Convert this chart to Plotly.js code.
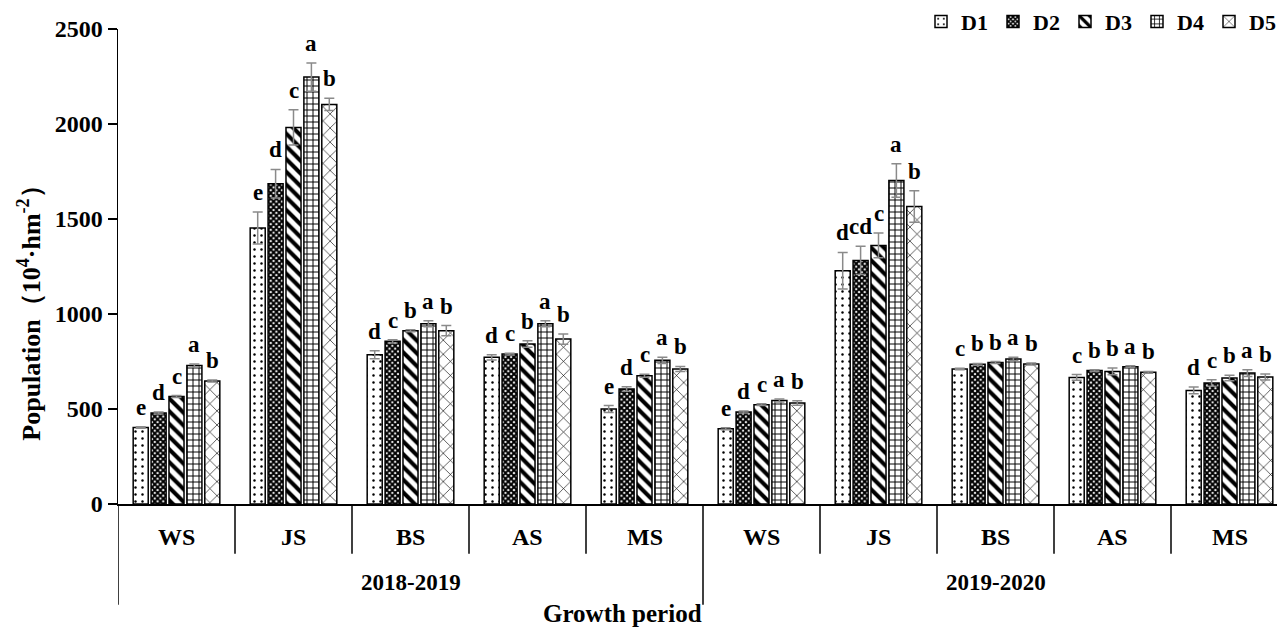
<!DOCTYPE html>
<html>
<head>
<meta charset="utf-8">
<script src="https://cdn.plot.ly/plotly-3.0.1.min.js"></script>
<style>html,body{margin:0;padding:0;background:#fff;}#chart{width:1277px;height:628px;}</style>
</head>
<body>
<div id="chart"></div>
<script>
// ---- data ----
const stages = ["WS","JS","BS","AS","MS","WS","JS","BS","AS","MS"];
const seasons = ["2018-2019","2019-2020"];
const seriesNames = ["D1","D2","D3","D4","D5"];

const D1 = [403, 1453, 786, 772, 500, 396, 1228, 710, 666, 598];
const D2 = [479, 1686, 856, 789, 605, 484, 1282, 735, 702, 637];
const D3 = [566, 1982, 912, 842, 675, 523, 1361, 745, 698, 663];
const D4 = [729, 2247, 949, 949, 756, 545, 1703, 763, 723, 689];
const D5 = [647, 2103, 912, 868, 711, 532, 1566, 737, 693, 668];

const D1err = [4, 84, 21, 14, 18, 5, 96, 4, 15, 18];
const D2err = [5, 75, 8, 5, 12, 5, 74, 5, 4, 17];
const D3err = [5, 93, 5, 17, 8, 4, 65, 5, 18, 14];
const D4err = [8, 74, 16, 16, 16, 8, 88, 9, 5, 18];
const D5err = [5, 32, 27, 27, 13, 12, 83, 5, 5, 16];

const L1 = ["e","e","d","d","e","e","d","c","c","d"];
const L2 = ["d","d","c","c","d","d","cd","b","b","c"];
const L3 = ["c","c","b","b","c","c","c","b","b","b"];
const L4 = ["a","a","a","a","a","a","a","a","a","a"];
const L5 = ["b","b","b","b","b","b","b","b","b","b"];

const yTicks = [0, 500, 1000, 1500, 2000, 2500];

// ---- styling ----
const FONT = "Liberation Serif, Times New Roman, serif";
const values = [D1, D2, D3, D4, D5];
const errs = [D1err, D2err, D3err, D4err, D5err];
const letters = [L1, L2, L3, L4, L5];
const patterns = [
  {shape: ".", fgcolor: "#000", bgcolor: "#fff", size: 7, solidity: 0.1},
  {shape: "x", fgcolor: "#000", bgcolor: "#fff", size: 4, solidity: 0.75},
  {shape: "\\", fgcolor: "#000", bgcolor: "#fff", size: 9, solidity: 0.45},
  {shape: "+", fgcolor: "#000", bgcolor: "#fff", size: 6, solidity: 0.3},
  {shape: "x", fgcolor: "#000", bgcolor: "#fff", size: 10, solidity: 0.12}
];
const BARGAP = 0.235, BARGROUPGAP = 0.16;
const xs = stages.map((_, i) => i);

const traces = seriesNames.map((name, k) => ({
  type: "bar",
  name: name,
  x: xs,
  y: values[k],
  marker: {color: "#fff", line: {color: "#000", width: 1.5}, pattern: patterns[k]},
  error_y: {type: "data", array: errs[k], visible: true, color: "#8a8a8a", thickness: 1.5, width: 5},
  hoverinfo: "none"
}));

const annotations = [];
const slot = (1 - BARGAP) / seriesNames.length;
seriesNames.forEach((name, k) => {
  const off = (k - (seriesNames.length - 1) / 2) * slot;
  xs.forEach((x, i) => {
    annotations.push({
      x: x + off, y: values[k][i] + errs[k][i], xref: "x", yref: "y",
      text: letters[k][i], showarrow: false, yanchor: "bottom", yshift: 5,
      font: {family: FONT, size: 23, weight: "bold", color: "#000"}
    });
  });
});

const plotTop = 29.3, plotBot = 504.3, plotH = plotBot - plotTop;
const plotL = 118, plotW = 1277 - 118;
const py = p => (plotBot - p) / plotH;
const px = p => (p - plotL) / plotW;

stages.forEach((s, i) => annotations.push({
  x: i, y: py(537), xref: "x", yref: "paper", text: s, showarrow: false,
  yanchor: "middle", font: {family: FONT, size: 24, weight: "bold", color: "#000"}
}));
seasons.forEach((s, j) => annotations.push({
  x: j * 5 + 2, y: py(583), xref: "x", yref: "paper", text: s, showarrow: false,
  yanchor: "middle", font: {family: FONT, size: 23, weight: "bold", color: "#000"}
}));
annotations.push({
  x: px(622), y: py(614), xref: "paper", yref: "paper", text: "Growth period",
  showarrow: false, yanchor: "middle", font: {family: FONT, size: 25, weight: "bold", color: "#000"}
});
annotations.push({
  x: px(30), y: py(307), xref: "paper", yref: "paper",
  text: "Population（10<sup>4</sup>·hm<sup>-2</sup>）", textangle: -90,
  showarrow: false, xanchor: "center", yanchor: "middle",
  font: {family: FONT, size: 26, weight: "bold", color: "#000"}
});

const shapes = [];
for (let i = 0; i < stages.length - 1; i++) {
  const bottom = ((i + 1) % 5 === 0) ? py(605) : py(554);
  shapes.push({type: "line", xref: "x", yref: "paper", x0: i + 0.5, x1: i + 0.5, y0: 0, y1: bottom,
    line: {color: "#000", width: 1.5}});
}
shapes.push({type: "line", xref: "x", yref: "paper", x0: -0.5, x1: -0.5, y0: 0, y1: py(605),
  line: {color: "#000", width: 1.5}});

const layout = {
  width: 1277, height: 628,
  margin: {l: plotL, r: 0, t: plotTop, b: 628 - plotBot, pad: 0, autoexpand: false},
  paper_bgcolor: "#fff", plot_bgcolor: "#fff",
  barmode: "group", bargap: BARGAP, bargroupgap: BARGROUPGAP,
  showlegend: true,
  legend: {orientation: "h", x: px(921), xanchor: "left", y: py(22), yanchor: "middle",
    font: {family: FONT, size: 22, weight: "bold", color: "#000"},
    entrywidth: 27, entrywidthmode: "pixels", itemwidth: 30, bgcolor: "rgba(0,0,0,0)"},
  xaxis: {range: [-0.5, 9.406], showticklabels: false, ticks: "", showgrid: false, zeroline: false,
    showline: true, linecolor: "#000", linewidth: 1.5, fixedrange: true},
  yaxis: {range: [0, 2500], tickvals: yTicks, ticktext: yTicks.map(String), ticks: "outside", ticklen: 9,
    tickwidth: 1.5, tickcolor: "#000", showline: true, linecolor: "#000", linewidth: 1.5,
    showgrid: false, zeroline: false, fixedrange: true,
    tickfont: {family: FONT, size: 24, weight: "bold", color: "#000"}},
  annotations: annotations,
  shapes: shapes
};

Plotly.newPlot("chart", traces, layout, {displayModeBar: false, staticPlot: true});
</script>
</body>
</html>
